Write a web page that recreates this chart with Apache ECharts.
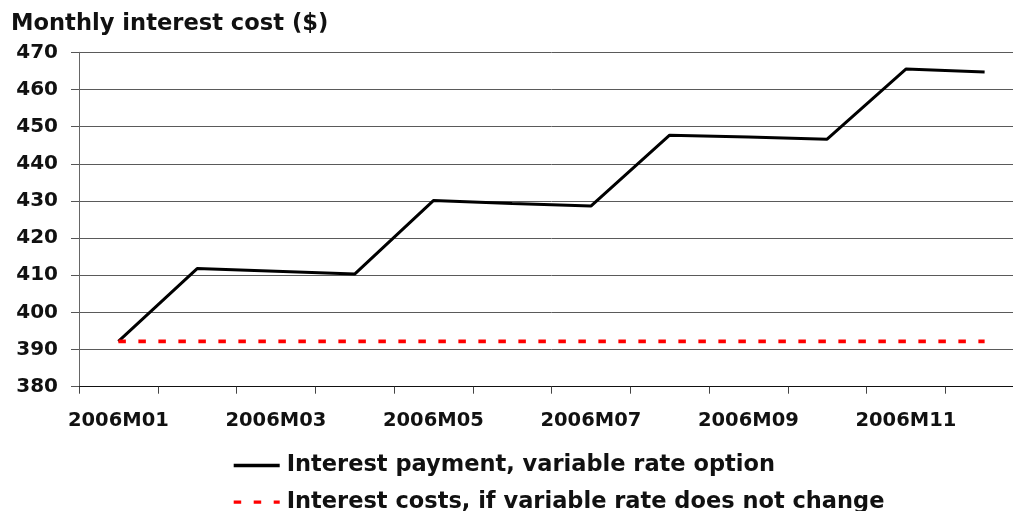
<!DOCTYPE html>
<html>
<head>
<meta charset="utf-8">
<style>
  html, body { margin: 0; padding: 0; background: #fff; overflow: hidden; }
  #chart { width: 1040px; height: 540px; }
</style>
<script src="https://cdn.jsdelivr.net/npm/echarts@6/dist/echarts.min.js"></script>
</head>
<body>
<div id="chart"></div>
<script>
// Monthly interest cost over 2006
const months = ['2006M01','2006M02','2006M03','2006M04','2006M05','2006M06',
                '2006M07','2006M08','2006M09','2006M10','2006M11','2006M12'];
const variablePayment = [392.2, 411.8, 411.1, 410.3, 430.1, 429.3,
                         428.6, 447.7, 447.2, 446.6, 465.5, 464.7];
const unchangedCost = [392.2, 392.2, 392.2, 392.2, 392.2, 392.2,
                       392.2, 392.2, 392.2, 392.2, 392.2, 392.2];
const seriesNames = ['Interest payment, variable rate option',
                     'Interest costs, if variable rate does not change'];
const titleText = 'Monthly interest cost ($)';

const FONT = '"DejaVu Sans", sans-serif';
const chart = echarts.init(document.getElementById('chart'), null, { renderer: 'canvas' });

// The plot runs past the right edge of the visible page; the last
// category band is cut off by the window.
chart.setOption({
  animation: false,
  backgroundColor: '#ffffff',
  title: {
    text: titleText,
    left: 6,
    top: 8,
    textStyle: { fontFamily: FONT, fontWeight: 'bold', fontSize: 22.6, color: '#111' }
  },
  grid: { left: 79, top: 52.3, width: 945, height: 334.4, containLabel: false },
  legend: {
    orient: 'vertical',
    left: 227,
    top: 449,
    itemWidth: 46,
    itemHeight: 14,
    itemGap: 13.6,
    itemStyle: { opacity: 0, borderWidth: 0 },
    lineStyle: { width: 3.4 },
    textStyle: { fontFamily: FONT, fontWeight: 'bold', fontSize: 22.5, color: '#111',
                 lineHeight: 23, padding: [0, 0, 0, 2] },
    data: seriesNames
  },
  xAxis: {
    type: 'category',
    data: months,
    boundaryGap: true,
    axisLine: { lineStyle: { color: '#111', width: 1 } },
    axisTick: { show: true, interval: 0, length: 7, lineStyle: { color: '#444' } },
    axisLabel: { interval: 1, margin: 24, fontFamily: FONT, fontWeight: 'bold',
                 fontSize: 19.5, color: '#111' },
    splitLine: { show: false }
  },
  yAxis: {
    type: 'value',
    min: 380,
    max: 470,
    interval: 10,
    axisLine: { show: true, lineStyle: { color: '#666', width: 1 } },
    axisTick: { show: true, length: 8, lineStyle: { color: '#555' } },
    axisLabel: { margin: 21, fontFamily: FONT, fontWeight: 'bold', fontSize: 20, color: '#111' },
    splitLine: { show: true, lineStyle: { color: '#5a5a5a', width: 1 } }
  },
  series: [
    {
      name: seriesNames[0],
      type: 'line',
      data: variablePayment,
      symbol: 'none',
      z: 3,
      lineStyle: { color: '#000', width: 3 },
      itemStyle: { color: '#000' }
    },
    {
      name: seriesNames[1],
      type: 'line',
      data: unchangedCost,
      symbol: 'none',
      z: 4,
      lineStyle: { color: '#ff0000', width: 3.6, type: [7.5, 12.5], cap: 'butt' },
      itemStyle: { color: '#ff0000' }
    }
  ]
});
</script>
</body>
</html>
